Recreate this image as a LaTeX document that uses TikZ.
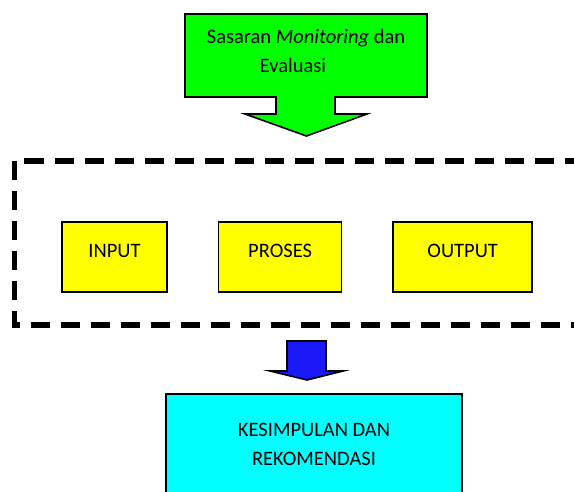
\documentclass[tikz,border=0pt]{standalone}
\usepackage{fontspec}
\setmainfont{Carlito}
\usetikzlibrary{positioning}
\definecolor{box_green}{RGB}{0,255,0}
\definecolor{box_yellow}{RGB}{255,255,0}
\definecolor{box_cyan}{RGB}{0,255,255}
\definecolor{box_blue}{RGB}{25,25,250}

\begin{document}
\begin{tikzpicture}[x=1pt,y=-1pt,
    font=\fontsize{20.5}{29}\selectfont,
    block_yellow/.style ={rectangle, draw=black, line width=1.6pt, fill=box_yellow,
      minimum height=70pt, inner sep=0pt, text height=13pt, text depth=13pt},
    block_cyan/.style ={rectangle, draw=black, line width=1.6pt, fill=box_cyan,
      minimum width=296pt, minimum height=100pt, align=center},
    block_noborder/.style ={rectangle, draw=none, fill=none, align=center, inner sep=0pt},
    block_arrow/.style ={draw=black, line width=1.6pt, line join=miter},
    frame_dashed/.style ={draw=black, line width=5.5pt, dash pattern=on 19pt off 11pt}]
    \useasboundingbox (0,0) rectangle (574,491);
    \clip (0,0) rectangle (574,491);
    % green callout arrow on top
    \draw[block_arrow, fill=box_green] (185,14) -- (427,14) -- (427,97) -- (335,97) -- (335,114)
      -- (367,114) -- (306.5,136) -- (245,114) -- (276,114) -- (276,97) -- (185,97) -- cycle;
    \node [block_noborder] (sasaran) at (306,50.5) {Sasaran \textit{Monitoring} dan\\Evaluasi\hspace*{26pt}};
    % dashed frame round the three steps
    \draw[frame_dashed] (14.5,161) rectangle (600,325);
    % the three steps
    \node [block_yellow, minimum width=105pt] (input) at (114.5,257) {INPUT};
    \node [block_yellow, minimum width=123pt, right=50pt of input] (proses) {PROSES};
    \node [block_yellow, minimum width=139pt, right=50pt of proses] (output) {OUTPUT};
    % blue arrow down
    \draw[block_arrow, fill=box_blue] (287,341) -- (326,341) -- (326,371)
      -- (343,371) -- (307,380) -- (270,371) -- (287,371) -- cycle;
    % result
    \node [block_cyan] (kesimpulan) at (314,444) {KESIMPULAN DAN\\REKOMENDASI};
  \end{tikzpicture}
\end{document}
